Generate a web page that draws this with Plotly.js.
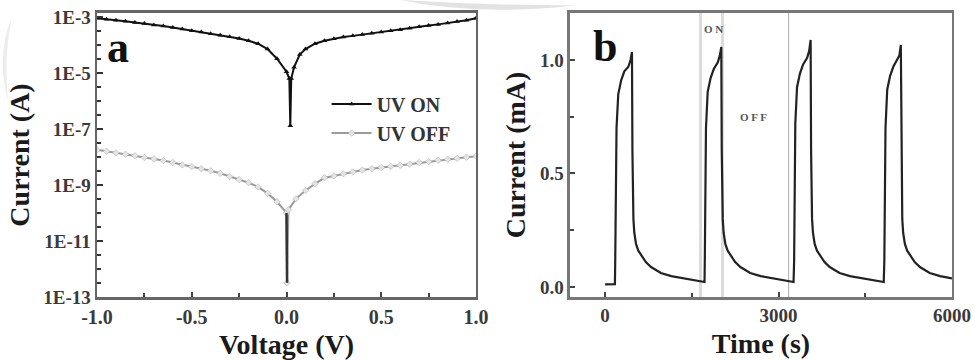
<!DOCTYPE html>
<html><head><meta charset="utf-8">
<script src="https://cdn.plot.ly/plotly-3.0.1.min.js"></script>
<style>html,body{margin:0;padding:0;background:#fff}#chart{width:975px;height:360px}</style>
</head><body><div id="chart"></div>
<script>
// Panel a: I-V curves (voltage in V, current in A)
const voltageOn = [-1.0,-0.95,-0.9,-0.85,-0.8,-0.75,-0.7,-0.65,-0.6,-0.55,-0.5,-0.45,-0.4,-0.35,-0.3,-0.25,-0.2,-0.15,-0.1,-0.05,0.0,0.015,0.02,0.025,0.04,0.07,0.1,0.15,0.2,0.25,0.3,0.35,0.4,0.45,0.5,0.55,0.6,0.65,0.7,0.75,0.8,0.85,0.9,0.95,1.0];
const currentOn = [8.9e-4,8.3e-4,7.6e-4,7.0e-4,6.3e-4,5.8e-4,5.1e-4,4.7e-4,4.2e-4,3.7e-4,3.2e-4,2.9e-4,2.5e-4,2.2e-4,1.95e-4,1.7e-4,1.4e-4,1.1e-4,7.1e-5,3.2e-5,1.1e-5,6.3e-6,1.3e-7,6.3e-6,1.6e-5,4.5e-5,7.1e-5,1.1e-4,1.4e-4,1.65e-4,1.9e-4,2.1e-4,2.35e-4,2.6e-4,2.9e-4,3.2e-4,3.5e-4,3.9e-4,4.4e-4,4.9e-4,5.4e-4,6.0e-4,6.8e-4,7.6e-4,8.9e-4];
const voltageOff = [-1.0,-0.95,-0.9,-0.85,-0.8,-0.75,-0.7,-0.65,-0.6,-0.55,-0.5,-0.45,-0.4,-0.35,-0.3,-0.25,-0.2,-0.15,-0.1,-0.05,0.0,0.003,0.01,0.05,0.1,0.15,0.2,0.25,0.3,0.35,0.4,0.45,0.5,0.55,0.6,0.65,0.7,0.75,0.8,0.85,0.9,0.95,1.0];
const currentOff = [1.8e-8,1.6e-8,1.4e-8,1.25e-8,1.1e-8,9.6e-9,8.5e-9,7.4e-9,6.3e-9,5.2e-9,4.5e-9,3.8e-9,3.2e-9,2.6e-9,2.0e-9,1.55e-9,1.2e-9,8.5e-10,5.0e-10,2.5e-10,1.0e-10,3.2e-13,1.3e-10,3.2e-10,6.3e-10,1.1e-9,1.8e-9,2.1e-9,2.5e-9,2.9e-9,3.4e-9,3.8e-9,4.2e-9,4.6e-9,5.0e-9,5.5e-9,6.3e-9,6.9e-9,7.6e-9,8.3e-9,8.9e-9,9.8e-9,1.07e-8];
// dark stem of the UV OFF curve at 0 V
const stemV = [0.0,0.003];
const stemI = [1.0e-10,3.2e-13];

// Panel b: photoresponse (time in s, current in mA)
const time = [0,100,170,175,183,198,228,278,333,403,440,465,473,480,490,505,535,575,625,705,795,965,1145,1315,1465,1665,1720,
  1725,1733,1745,1775,1825,1880,1950,1985,2010,2018,2025,2035,2050,2080,2120,2170,2250,2340,2510,2690,2860,3010,3210,3260,
  3270,3278,3290,3320,3370,3425,3495,3530,3555,3563,3570,3580,3595,3625,3665,3715,3795,3885,4055,4235,4405,4555,4755,4820,
  4830,4838,4850,4880,4930,4985,5055,5090,5115,5123,5130,5140,5155,5185,5225,5275,5355,5445,5615,5795,5965,6000];
const currentMA = [0.012,0.012,0.013,0.1,0.4,0.7,0.85,0.91,0.95,0.97,1.0,1.035,0.6,0.4,0.3,0.24,0.19,0.16,0.14,0.11,0.088,0.062,0.048,0.04,0.033,0.026,0.022,
  0.12,0.4,0.7,0.86,0.92,0.96,0.99,1.02,1.057,0.6,0.4,0.3,0.24,0.19,0.16,0.14,0.11,0.088,0.062,0.048,0.04,0.033,0.026,0.022,
  0.12,0.4,0.72,0.88,0.94,0.98,1.01,1.04,1.088,0.6,0.4,0.3,0.24,0.19,0.16,0.14,0.11,0.088,0.062,0.048,0.04,0.033,0.026,0.022,
  0.12,0.4,0.7,0.87,0.93,0.97,1.0,1.02,1.066,0.6,0.4,0.3,0.24,0.19,0.16,0.14,0.11,0.088,0.062,0.048,0.04,0.038];

// Panel a tick labels
const logTickVals = [1e-13,1e-11,1e-9,1e-7,1e-5,1e-3];
const logTickText = ['1E-13','1E-11','1E-9','1E-7','1E-5','1E-3'];
// Panel b marker lines (s)
const onBand = [1650,2030];
const offLine = [3175];

// minor tick positions on the log axis (one per half decade)
const logMinor = [];
for (let k = -13; k <= -3; k++) { logMinor.push(Math.pow(10, k)); logMinor.push(3.16 * Math.pow(10, k)); }

const serif = 'Liberation Serif, Times New Roman, serif';
const tickFont = {family: serif, size: 19, color: '#3a3a3a'};
const tickFontX = {family: serif, size: 20, color: '#3a3a3a'};
const titleFont = {family: serif, size: 28, color: '#1a1a1a'};

const traces = [
  {x: voltageOn, y: currentOn, xaxis:'x', yaxis:'y', type:'scatter', mode:'lines+markers', name:'<b>UV ON</b>',
   line:{color:'#111', width:2}, marker:{symbol:'triangle-up', size:5, color:'#111'}},
  {x: voltageOff, y: currentOff, xaxis:'x', yaxis:'y', type:'scatter', mode:'lines+markers', name:'<b>UV OFF</b>',
   line:{color:'#9a9a9a', width:2}, marker:{symbol:'diamond', size:5, color:'#e4e4e4', line:{color:'#aaa', width:0.5}}},
  {x: stemV, y: stemI, xaxis:'x', yaxis:'y', type:'scatter', mode:'lines', showlegend:false,
   line:{color:'#333', width:2.5}, hoverinfo:'skip'},
  {x: time, y: currentMA, xaxis:'x2', yaxis:'y2', type:'scatter', mode:'lines', showlegend:false,
   line:{color:'#222', width:2.2}}
];

const shapes = [];
onBand.forEach(t => shapes.push({type:'line', xref:'x2', yref:'y2 domain', x0:t, x1:t, y0:0, y1:1, line:{color:'#dcdcdc', width:3}, layer:'below'}));
offLine.forEach(t => shapes.push({type:'line', xref:'x2', yref:'y2 domain', x0:t, x1:t, y0:0, y1:1, line:{color:'#aaa', width:1}, layer:'below'}));
// faint watermark arcs
shapes.push({type:'path', xref:'paper', yref:'paper', path:'M 0.41,1 Q 0.49,0.955 0.59,0.985 Q 0.5,0.985 0.41,1 Z', fillcolor:'#e2e2e2', line:{width:0}, layer:'below'});
shapes.push({type:'path', xref:'paper', yref:'paper', path:'M 0.012,0.95 Q -0.004,0.85 0.008,0.72 Q 0.004,0.85 0.012,0.95 Z', fillcolor:'#ececec', line:{width:0}, layer:'below'});

const layout = {
  width: 975, height: 360,
  margin: {l:0, r:0, t:0, b:0},
  paper_bgcolor:'#fff', plot_bgcolor:'#fff',
  showlegend: true,
  legend: {x: 0.335, y: 0.765, xanchor:'left', yanchor:'top', bgcolor:'rgba(0,0,0,0)',
           font:{family: serif, size: 20, color:'#333'}, itemwidth: 40, tracegroupgap: 0},
  xaxis: {domain:[0.0995, 0.4882], range:[-1, 1], anchor:'y',
    tickvals:[-1,-0.5,0,0.5,1], ticktext:['<b>-1.0</b>','<b>-0.5</b>','<b>0.0</b>','<b>0.5</b>','<b>1.0</b>'],
    ticks:'inside', ticklen:5, tickwidth:2, tickcolor:'#444',
    minor:{tickvals:[-0.75,-0.25,0.25,0.75], ticks:'inside', ticklen:4, tickwidth:2, tickcolor:'#444'},
    showline:true, linecolor:'#666', linewidth:2.5, mirror:true, showgrid:false, zeroline:false,
    tickfont: tickFontX, title:{text:'<b>Voltage (V)</b>', font: titleFont, standoff: 8}},
  yaxis: {domain:[0.175, 0.964], type:'log', range:[-13, -2.86], anchor:'x',
    tickvals: logTickVals, ticktext: logTickText.map(s=>'<b>'+s+'</b>'),
    ticks:'inside', ticklen:6, tickwidth:2, tickcolor:'#333',
    minor:{tickvals: logMinor, ticks:'inside', ticklen:4, tickwidth:2, tickcolor:'#333'},
    showline:true, linecolor:'#666', linewidth:2.5, mirror:true, showgrid:false, zeroline:false,
    tickfont: tickFont, title:{text:'<b>Current (A)</b>', font: titleFont, standoff: 6}},
  xaxis2: {domain:[0.5846, 0.9764], range:[-607, 6000], anchor:'y2',
    tickvals:[0,3000,6000], ticktext:['<b>0</b>','<b>3000</b>','<b>6000</b>'],
    ticks:'inside', ticklen:5, tickwidth:2, tickcolor:'#444',
    minor:{tickvals:[1500,4500], ticks:'inside', ticklen:4, tickwidth:2, tickcolor:'#444'},
    showline:true, linecolor:'#777', linewidth:2.5, mirror:true, showgrid:false, zeroline:false,
    tickfont: tickFont, title:{text:'<b>Time (s)</b>', font: titleFont, standoff: 8}},
  yaxis2: {domain:[0.175, 0.964], range:[-0.044, 1.207], anchor:'x2',
    tickvals:[0,0.5,1.0], ticktext:['<b>0.0</b>','<b>0.5</b>','<b>1.0</b>'],
    ticks:'inside', ticklen:5, tickwidth:2, tickcolor:'#444',
    minor:{tickvals:[0.25,0.75], ticks:'inside', ticklen:4, tickwidth:2, tickcolor:'#444'},
    showline:true, linecolor:'#777', linewidth:2.5, mirror:true, showgrid:false, zeroline:false,
    tickfont: tickFont, title:{text:'<b>Current (mA)</b>', font: titleFont, standoff: 6}},
  shapes: shapes,
  annotations: [
    {xref:'paper', yref:'paper', x:0.121, y:0.867, xanchor:'center', yanchor:'middle', text:'<b>a</b>', showarrow:false, font:{family: serif, size: 44, color:'#111'}},
    {xref:'paper', yref:'paper', x:0.620, y:0.872, xanchor:'center', yanchor:'middle', text:'<b>b</b>', showarrow:false, font:{family: serif, size: 44, color:'#111'}},
    {xref:'paper', yref:'paper', x:0.732, y:0.920, xanchor:'center', yanchor:'middle', text:'<b>O N</b>', showarrow:false, font:{family: serif, size: 11, color:'#555'}},
    {xref:'paper', yref:'paper', x:0.773, y:0.675, xanchor:'center', yanchor:'middle', text:'<b>O F F</b>', showarrow:false, font:{family: serif, size: 11, color:'#555'}}
  ]
};

Plotly.newPlot('chart', traces, layout, {displayModeBar:false, staticPlot:true});
</script>
</body></html>
